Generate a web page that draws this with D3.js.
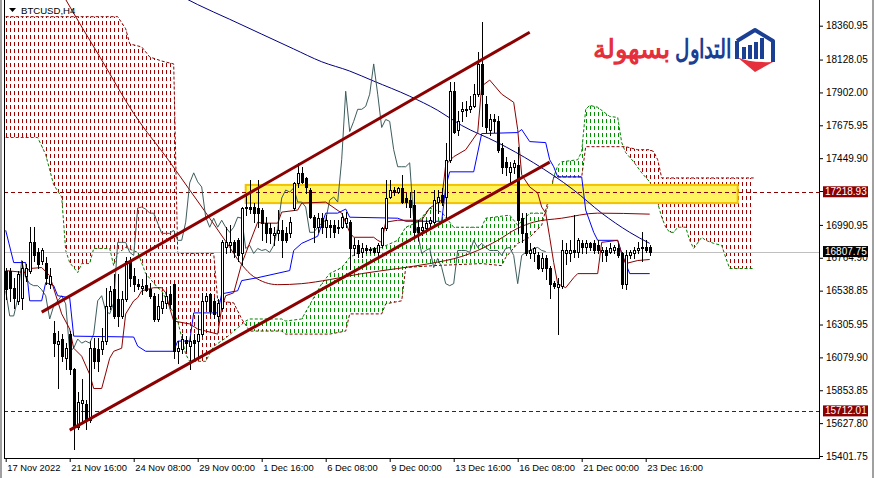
<!DOCTYPE html>
<html><head><meta charset="utf-8">
<script src="https://cdn.jsdelivr.net/npm/d3@7"></script>
<style>
html,body{margin:0;padding:0;background:#fff;}
svg{display:block;}
text{font-family:"Liberation Sans",Arial,sans-serif;}
</style></head><body>
<svg id="c" width="874" height="478"></svg>
<script>
// ---------------- DATA ----------------
const symbolLabel = "BTCUSD,H4";
const timeTickIdx = [0,16,32,48,64,80,96,112,128,144,160];
const timeLabels = ["17 Nov 2022","21 Nov 16:00","24 Nov 08:00","29 Nov 00:00","1 Dec 16:00","6 Dec 08:00","9 Dec 00:00","13 Dec 16:00","16 Dec 08:00","21 Dec 00:00","23 Dec 16:00"];
const priceTicks = [18360.95,18128.05,17902.00,17675.95,17449.90,17223.85,16990.95,16764.90,16538.85,16305.95,16079.90,15853.85,15627.80,15401.75];

const open = [16677,16677,16559,16469,16490,16642,16677,16871,16802,16746,
16732,16587,16247,16171,16206,16074,16240,15998,15603,15769,
15762,15651,16143,16136,16136,16192,16434,16552,16483,16365,
16483,16746,16642,16587,16559,16580,16552,16504,16344,16420,
16455,16517,16587,16122,16136,16199,16157,16199,16192,16240,
16469,16517,16469,16365,16420,16836,16850,16871,16885,16795,
17107,17114,17114,17107,17093,17003,16968,16919,16933,16954,
16933,16933,17107,17280,17349,17314,17231,17044,16975,17037,
16975,16989,16989,16968,16975,17003,17010,16829,16850,16802,
16829,16815,16829,16802,16850,16968,17183,17231,17217,17245,
17176,17162,17127,16975,16954,16968,17003,17010,17148,17197,
17183,17439,17910,17647,17772,17779,17786,17806,17890,18098,
17820,17647,17716,17703,17522,17425,17356,17391,17405,17037,
16933,16795,16795,16781,16698,16760,16698,16594,16566,16573,
16795,16795,16815,16802,16864,16836,16864,16864,16850,16802,
16815,16802,16815,16829,16795,16587,16781,16795,16815,16829,
16836,16836];
const high = [16698,16698,16628,16677,16746,16725,16975,16975,16829,16829,
16767,16698,16330,16261,16240,16178,16261,16005,15845,15928,
15790,16192,16213,16213,16282,16559,16573,16656,16656,16538,
16767,16767,16698,16621,16621,16656,16594,16524,16517,16524,
16538,16573,16587,16192,16240,16226,16226,16240,16365,16524,
16524,16524,16490,16483,16885,16975,16989,16885,16899,17114,
17211,17301,17141,17301,17107,17044,17003,16975,17093,17023,
16975,17044,17287,17418,17391,17321,17245,17058,17072,17072,
17058,17023,17023,17023,17072,17079,17023,16899,16885,16864,
16850,16836,16836,16864,16975,17301,17301,17252,17252,17335,
17211,17217,17231,17023,17023,17023,17044,17231,17231,17245,
17557,17973,17973,17772,17834,17841,17876,17959,18181,18389,
17876,17751,17751,17737,17557,17460,17425,17439,17529,17072,
17072,16864,16836,16802,16795,16781,16711,16608,16628,16885,
16864,16885,17058,16899,16885,16885,16871,16885,16885,16836,
16836,16864,16850,16864,16802,16815,16815,16836,16871,16940,
16885,16850];
const low = [16483,16469,16420,16448,16414,16608,16663,16746,16698,16725,
16587,16559,16088,15866,16053,15998,15963,15450,15589,15637,
15589,15637,16005,15984,16102,16171,16414,16351,16296,16351,
16469,16573,16538,16552,16517,16538,16490,16330,16330,16386,
16420,16420,16074,16039,16109,16122,15998,16053,16074,16226,
16414,16379,16351,16330,16414,16795,16802,16767,16746,16725,
17058,17072,17010,16975,16885,16871,16864,16850,16885,16767,
16871,16906,17093,17252,17280,17211,17037,16871,16940,16933,
16906,16906,16906,16933,16968,16975,16691,16781,16767,16767,
16795,16795,16795,16760,16836,16954,17176,17197,17211,17141,
17114,17044,16906,16885,16919,16940,16975,17003,17072,17127,
17044,17425,17626,17612,17703,17737,17765,17800,17876,17668,
17633,17612,17633,17495,17349,17335,17287,17349,16933,16871,
16781,16760,16746,16691,16677,16621,16490,16559,16240,16559,
16725,16746,16767,16767,16795,16795,16815,16795,16795,16746,
16746,16795,16795,16767,16559,16552,16760,16760,16795,16746,
16802,16781];
const close = [16552,16559,16490,16656,16698,16698,16871,16781,16725,16815,
16628,16642,16178,16192,16088,16143,15998,15603,15776,15790,
15651,16143,16053,16053,16192,16434,16538,16365,16365,16483,
16746,16628,16587,16573,16573,16545,16504,16344,16434,16469,
16504,16448,16122,16143,16206,16178,16192,16178,16240,16469,
16504,16400,16379,16455,16871,16871,16871,16802,16781,17107,
17114,17100,17072,17072,17003,16933,16933,16933,16954,16885,
16885,17010,17280,17349,17287,17252,17044,16975,17037,16975,
17023,16975,16940,16975,17044,17037,16829,16850,16795,16829,
16815,16822,16802,16850,16968,17176,17231,17217,17245,17148,
17148,17114,16940,16940,16975,17003,17023,17162,17183,17148,
17439,17910,17633,17703,17786,17786,17806,17890,18098,17890,
17661,17716,17703,17508,17391,17391,17391,17418,17023,16933,
16795,16815,16829,16698,16760,16698,16587,16573,16587,16815,
16815,16815,16802,16885,16836,16864,16836,16815,16815,16815,
16781,16829,16836,16781,16587,16781,16802,16815,16829,16836,
16815,16807.75];

// Ichimoku lines: [bar index, price]
const tenkan = [[0,16677],[5,16663],[6,16691],[9,16698],[11,16642],[14,16379],[16,16275],[17,16143],[19,16088],[21,15963],[22,15866],[24,15866],[26,16074],[27,16122],[29,16143],[30,16379],[32,16469],[33,16490],[34,16538],[37,16559],[39,16559],[40,16524],[41,16420],[42,16330],[46,16310],[48,16275],[53,16240],[54,16420],[55,16504],[57,16524],[59,16725],[60,16795],[63,17010],[64,17003],[68,17003],[69,17079],[73,17093],[74,17141],[80,17148],[84,17072],[86,16940],[87,16906],[92,16906],[93,16885],[94,16871],[95,17010],[98,17023],[104,17023],[106,17107],[109,17162],[110,17405],[112,17460],[115,17508],[118,17626],[119,17945],[121,17987],[124,17890],[127,17834],[128,17647],[129,17335],[131,17252],[133,17211],[134,17114],[135,17072],[136,16906],[137,16732],[138,16587],[140,16559],[142,16628],[143,16656],[148,16656],[149,16871],[153,16885],[154,16795],[155,16725],[158,16746],[161,16753]];
const kijun = [[0,16954],[2,16732],[5,16732],[6,16469],[9,16469],[10,16594],[12,16573],[13,16504],[16,16490],[17,16226],[32,16220],[33,16157],[35,16122],[42,16122],[43,16192],[46,16192],[47,16386],[53,16386],[54,16517],[58,16538],[59,16608],[63,16628],[71,16677],[72,16815],[74,16864],[78,16913],[80,17072],[83,17072],[85,17100],[86,17044],[98,17037],[100,17016],[109,17016],[110,17252],[111,17356],[117,17356],[119,17619],[128,17626],[129,17647],[131,17564],[135,17557],[136,17439],[137,17391],[138,17321],[144,17321],[145,17093],[147,16940],[148,16885],[153,16885],[154,16795],[156,16656],[161,16656]];
const spanA = [[0,17592],[8,17592],[10,17474],[12,17266],[14,17183],[15,16815],[16,16732],[18,16663],[19,16725],[21,16725],[22,16829],[26,16829],[27,16711],[28,16795],[30,16836],[33,16802],[35,16656],[38,16559],[39,16538],[43,16330],[45,16102],[46,16053],[50,16053],[52,16157],[55,16213],[60,16330],[61,16344],[69,16344],[70,16330],[74,16344],[79,16587],[81,16656],[84,16698],[86,16767],[89,16815],[94,16836],[98,16885],[100,16975],[103,17010],[106,17107],[109,17079],[112,16975],[119,16975],[120,17037],[126,17058],[128,16989],[131,17072],[135,17072],[136,17162],[137,17321],[138,17398],[139,17425],[143,17439],[144,17495],[145,17786],[146,17813],[148,17800],[151,17737],[153,17730],[154,17557],[155,17488],[157,17425],[159,17349],[161,17287],[162,17231],[163,17141],[164,17044],[165,16975],[166,16940],[167,16940],[168,16975],[170,16975],[171,16885],[172,16829],[174,16906],[175,16885],[177,16864],[179,16850],[180,16767],[181,16691],[187,16691]];
const spanB = [[0,18423],[28,18423],[30,18340],[31,18236],[34,18215],[36,18146],[39,18118],[42,18098],[43,16795],[52,16795],[53,16469],[57,16455],[59,16344],[61,16261],[69,16261],[70,16240],[81,16240],[85,16261],[86,16379],[94,16379],[95,16448],[99,16469],[100,16698],[107,16711],[119,16725],[124,16711],[125,16767],[128,16864],[131,16906],[134,16989],[136,17197],[137,17321],[144,17321],[145,17529],[155,17529],[158,17508],[161,17508],[162,17495],[163,17439],[164,17314],[187,17314]];
const chikouShift = 26;

// moving averages
const maRed = [[13,18638],[15,18541],[24,18125],[32,17758],[41,17425],[46,17231],[51,17037],[55,16878],[59,16718],[62,16635],[68,16580],[74,16587],[81,16615],[89,16656],[98,16691],[106,16725],[114,16774],[118,16815],[123,16885],[128,16968],[132,17010],[139,17037],[148,17072],[161,17065]];
const maNavy = [[44,18562],[48,18506],[56,18405],[64,18303],[72,18201],[79,18113],[86,18049],[92,17980],[101,17876],[108,17779],[114,17675],[123,17557],[132,17418],[142,17231],[149,17072],[156,16940],[161,16864]];

// drawn objects
const channelUpper = [[9,16391],[131,18316]];
const channelLower = [[16,15580],[136,17423]];
const zoneIdx = [60,183];
const zonePrice = [17141,17266];
const hLevels = [17218.93,15712.01];
const lastPrice = 16807.75;
const logoBlue = "التداول";
const logoRed = "بسهولة";

// ---------------- CHART ----------------
const svg = d3.select("#c");
const plotL = 4, plotR = 819, plotB = 458;
const x = d3.scaleLinear().domain([0,161]).range([5.7,649.7]);
const y = d3.scaleLinear().domain([15401.75,18360.95]).range([456,25.7]);

svg.append("rect").attr("width",874).attr("height",478).attr("fill","#fff");
const defs = svg.append("defs");
defs.append("clipPath").attr("id","plot").append("rect")
  .attr("x",plotL+1).attr("y",0).attr("width",plotR-plotL-1).attr("height",plotB);

function hatch(id,color){
  const p = defs.append("pattern").attr("id",id).attr("patternUnits","userSpaceOnUse")
    .attr("x",Math.round(x(0))).attr("y",0).attr("width",4).attr("height",7);
  p.append("rect").attr("x",0).attr("y",0).attr("width",1).attr("height",4).attr("fill",color);
}
const RED = "#8b0000", GREEN = "#008000";
hatch("hR","#a00000"); hatch("hG","#009000");

const areaAbove = d3.area().x(d=>x(d[0])).y0(0).y1(d=>y(d[1]));
const areaBelow = d3.area().x(d=>x(d[0])).y0(plotB).y1(d=>y(d[1]));
defs.append("clipPath").attr("id","aboveA").append("path").attr("d",areaAbove(spanA));
defs.append("clipPath").attr("id","belowA").append("path").attr("d",areaBelow(spanA));
defs.append("clipPath").attr("id","aboveB").append("path").attr("d",areaAbove(spanB));
defs.append("clipPath").attr("id","belowB").append("path").attr("d",areaBelow(spanB));

const g = svg.append("g").attr("clip-path","url(#plot)");
const cloudX0 = x(0), cloudX1 = x(187);
g.append("g").attr("clip-path","url(#belowB)").append("rect")
  .attr("x",cloudX0-1).attr("y",0).attr("width",cloudX1-cloudX0+2).attr("height",plotB)
  .attr("fill","url(#hR)").attr("clip-path","url(#aboveA)").attr("shape-rendering","crispEdges");
g.append("g").attr("clip-path","url(#belowA)").append("rect")
  .attr("x",cloudX0-1).attr("y",0).attr("width",cloudX1-cloudX0+2).attr("height",plotB)
  .attr("fill","url(#hG)").attr("clip-path","url(#aboveB)").attr("shape-rendering","crispEdges");

const line = d3.line().x(d=>x(d[0])).y(d=>y(d[1]));
g.append("path").attr("d",line(spanB)).attr("fill","none").attr("stroke",RED).attr("stroke-dasharray","3,2");
g.append("path").attr("d",line(spanA)).attr("fill","none").attr("stroke",GREEN).attr("stroke-dasharray","3,2");

// yellow zone
g.append("rect")
  .attr("x",x(zoneIdx[0])).attr("y",y(zonePrice[1]))
  .attr("width",x(zoneIdx[1])-x(zoneIdx[0])).attr("height",y(zonePrice[0])-y(zonePrice[1]))
  .attr("fill","#fff35f").attr("stroke","#f2c200").attr("stroke-width",2);

// last price line
g.append("line").attr("x1",plotL).attr("x2",plotR).attr("y1",Math.round(y(lastPrice))+0.5).attr("y2",Math.round(y(lastPrice))+0.5)
  .attr("stroke","#c0c0c0");
g.selectAll("line.hl").data(hLevels).join("line").attr("class","hl")
  .attr("x1",plotL).attr("x2",plotR).attr("y1",d=>Math.round(y(d))+0.5).attr("y2",d=>Math.round(y(d))+0.5)
  .attr("stroke",RED).attr("stroke-dasharray","4,3");

// moving averages
g.append("path").attr("d",d3.line().curve(d3.curveMonotoneX).x(d=>x(d[0])).y(d=>y(d[1]))(maNavy))
  .attr("fill","none").attr("stroke","#000080");
g.append("path").attr("d",d3.line().curve(d3.curveMonotoneX).x(d=>x(d[0])).y(d=>y(d[1]))(maRed))
  .attr("fill","none").attr("stroke","#8b0000");

// ichimoku lines
const chikou = close.slice(chikouShift).map((c,j)=>[j,c]);
g.append("path").attr("d",line(chikou)).attr("fill","none").attr("stroke","#3d5c5c");
g.append("path").attr("d",line(kijun)).attr("fill","none").attr("stroke","#0000ff");
g.append("path").attr("d",line(tenkan)).attr("fill","none").attr("stroke","#8b0000");

// candles
const bars = d3.range(open.length).map(i=>({i,o:open[i],h:high[i],l:low[i],c:close[i]}));
const cg = g.append("g").attr("shape-rendering","crispEdges");
cg.selectAll("line.wick").data(bars).join("line").attr("class","wick")
  .attr("x1",d=>Math.round(x(d.i))+0.5).attr("x2",d=>Math.round(x(d.i))+0.5)
  .attr("y1",d=>Math.round(y(d.h))).attr("y2",d=>Math.round(y(d.l))+1).attr("stroke","#000");
cg.selectAll("rect.body").data(bars).join("rect").attr("class","body")
  .attr("x",d=>Math.round(x(d.i))-0.5)
  .attr("y",d=>Math.round(y(Math.max(d.o,d.c)))+0.5)
  .attr("width",2)
  .attr("height",d=>Math.max(0,Math.round(y(Math.min(d.o,d.c)))-Math.round(y(Math.max(d.o,d.c)))))
  .attr("fill",d=>d.c>=d.o?"#fff":"#000").attr("stroke","#000");

// channel
g.append("path").attr("d",line(channelUpper)).attr("stroke","#8b0000").attr("stroke-width",3).attr("fill","none");
g.append("path").attr("d",line(channelLower)).attr("stroke","#8b0000").attr("stroke-width",3).attr("fill","none");

// frame
svg.append("rect").attr("x",0).attr("y",0).attr("width",2).attr("height",478).attr("fill","#a0a0a0");
svg.append("rect").attr("x",872).attr("y",0).attr("width",2).attr("height",478).attr("fill","#a0a0a0");
svg.append("line").attr("x1",plotL+0.5).attr("x2",plotL+0.5).attr("y1",0).attr("y2",plotB+0.5).attr("stroke","#000");
svg.append("line").attr("x1",plotR+0.5).attr("x2",plotR+0.5).attr("y1",0).attr("y2",plotB+0.5).attr("stroke","#000");
svg.append("line").attr("x1",plotL).attr("x2",plotR+1).attr("y1",plotB+0.5).attr("y2",plotB+0.5).attr("stroke","#000");

// price axis
const ya = d3.axisRight(y).tickValues(priceTicks).tickFormat(d3.format(".2f")).tickSize(4).tickPadding(3);
const yag = svg.append("g").attr("transform",`translate(${plotR},0)`).call(ya);
yag.select(".domain").remove();
yag.selectAll("text").attr("font-family","Liberation Sans, Arial, sans-serif").attr("font-size",10).attr("fill","#000");
yag.selectAll("line").attr("stroke","#000");

// time axis
const xa = d3.axisBottom(x).tickValues(timeTickIdx).tickFormat((d,k)=>timeLabels[k]).tickSize(4).tickPadding(2);
const xag = svg.append("g").attr("transform",`translate(0,${plotB})`).call(xa);
xag.select(".domain").remove();
xag.selectAll("text").attr("font-family","Liberation Sans, Arial, sans-serif").attr("font-size",9.4)
  .attr("fill","#000").attr("text-anchor","start").attr("x",1);
xag.selectAll("line").attr("stroke","#000");

// price labels for levels
function priceBox(v,fill){
  const yc = y(v);
  svg.append("rect").attr("x",823).attr("y",yc-5.5).attr("width",45).attr("height",11).attr("fill",fill);
  svg.append("text").attr("x",825).attr("y",yc+3.6).attr("font-size",10).attr("fill","#fff").text(d3.format(".2f")(v));
}
hLevels.forEach(v=>priceBox(v,RED));
priceBox(lastPrice,"#000");

// symbol label
svg.append("path").attr("d","M9,8 L16,8 L12.5,12 Z").attr("fill","#000");
svg.append("text").attr("x",21).attr("y",13.5).attr("font-size",9.6).attr("fill","#000").text(symbolLabel);

// logo
const logo = svg.append("g");
function fitArabic(txt,color,x0,x1,base){
  const t = logo.append("text").text(txt).attr("font-family","DejaVu Sans, sans-serif")
    .attr("font-weight","bold").attr("font-size",26).attr("fill",color).attr("x",0).attr("y",0);
  const bb = t.node().getBBox();
  const s = (x1-x0)/bb.width;
  t.attr("transform",`translate(${x0-bb.x*s},${base}) scale(${s},1)`);
}
fitArabic(logoBlue,"#1b3f93",675,733,58);
fitArabic(logoRed,"#e5303b",593,670,58);
const hx=755, hy=51;
logo.append("path").attr("d",`M${hx-18},${hy-10} L${hx},${hy-21} L${hx+18},${hy-10} L${hx+18},${hy+11}`)
  .attr("fill","none").attr("stroke","#1b3f93").attr("stroke-width",4).attr("stroke-linejoin","round");
logo.append("path").attr("d",`M${hx-18},${hy-10} L${hx-18},${hy+8}`).attr("stroke","#1b3f93").attr("stroke-width",4);
logo.append("path").attr("d",`M${hx-18},${hy+6} Q${hx-6},${hy+12} ${hx+18},${hy+11} L${hx},${hy+21} Z`)
  .attr("fill","#e5303b");
[[-12,-4],[-6,-6],[0,-9],[6,-13]].forEach(([dx,dt])=>{
  logo.append("rect").attr("x",hx+dx-1).attr("y",hy+dt).attr("width",4).attr("height",8-dt).attr("fill","#1b3f93");
});
</script>
</body></html>
